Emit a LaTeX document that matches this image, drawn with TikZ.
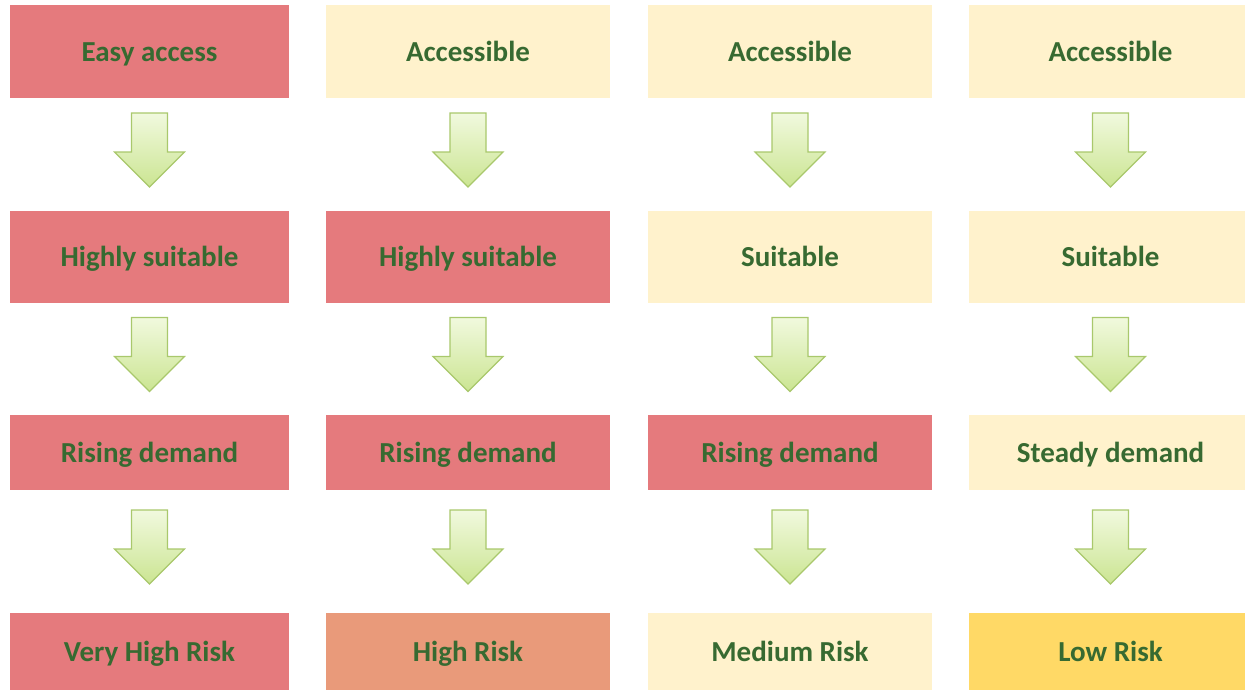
\documentclass[tikz,border=0pt]{standalone}
\usepackage{fontspec}
\setmainfont{Carlito}
\usetikzlibrary{calc}
\definecolor{boxred}{HTML}{E57A7D}
\definecolor{boxcream}{HTML}{FFF2CC}
\definecolor{boxsalmon}{HTML}{E99A7A}
\definecolor{boxyellow}{HTML}{FFD966}
\definecolor{txtgreen}{HTML}{376A31}
\definecolor{arrowlight}{HTML}{F1F9DE}
\definecolor{arrowdark}{HTML}{CBE592}
\definecolor{arrowedge}{HTML}{A9C86C}
\tikzset{
  box/.style={rectangle, inner sep=0pt, text=txtgreen, text height=19pt, text depth=0pt,
    font=\fontsize{29}{33}\selectfont\bfseries},
  redbox/.style={box, fill=boxred},
  creambox/.style={box, fill=boxcream},
  salmonbox/.style={box, fill=boxsalmon},
  yellowbox/.style={box, fill=boxyellow},
  arrowfill/.style={draw=arrowedge, line width=1.2pt, line join=miter,
    top color=arrowlight, bottom color=arrowdark},
  blockarrow/.pic={
    \path[arrowfill] (-18,-37) -- (18,-37) -- (18,2) -- (35,2) -- (0,37)
      -- (-35,2) -- (-18,2) -- cycle;
  }
}
\begin{document}
\begin{tikzpicture}[x=1pt,y=-1pt]
\useasboundingbox (0,0) rectangle (1245,689);
\clip (0,0) rectangle (1245,689);
% row 1
\node[redbox, minimum width=279pt, minimum height=93pt] (r1c1) at (149.5,51.5) {Easy access};
\node[creambox, minimum width=284pt, minimum height=93pt] (r1c2) at (468,51.5) {Accessible};
\node[creambox, minimum width=284pt, minimum height=93pt] (r1c3) at (790,51.5) {Accessible};
\node[creambox, minimum width=283pt, minimum height=93pt] (r1c4) at (1110.5,51.5) {Accessible};
% row 2
\node[redbox, minimum width=279pt, minimum height=92pt] (r2c1) at (149.5,257) {Highly suitable};
\node[redbox, minimum width=284pt, minimum height=92pt] (r2c2) at (468,257) {Highly suitable};
\node[creambox, minimum width=284pt, minimum height=92pt] (r2c3) at (790,257) {Suitable};
\node[creambox, minimum width=283pt, minimum height=92pt] (r2c4) at (1110.5,257) {Suitable};
% row 3
\node[redbox, minimum width=279pt, minimum height=75pt] (r3c1) at (149.5,452.5) {Rising demand};
\node[redbox, minimum width=284pt, minimum height=75pt] (r3c2) at (468,452.5) {Rising demand};
\node[redbox, minimum width=284pt, minimum height=75pt] (r3c3) at (790,452.5) {Rising demand};
\node[creambox, minimum width=283pt, minimum height=75pt] (r3c4) at (1110.5,452.5) {Steady demand};
% row 4
\node[redbox, minimum width=279pt, minimum height=78pt] (r4c1) at (149.5,652) {Very High Risk};
\node[salmonbox, minimum width=284pt, minimum height=78pt] (r4c2) at (468,652) {High Risk};
\node[creambox, minimum width=284pt, minimum height=78pt] (r4c3) at (790,652) {Medium Risk};
\node[yellowbox, minimum width=283pt, minimum height=78pt] (r4c4) at (1110.5,652) {Low Risk};
% arrows
\foreach \c in {1,2,3,4}{
  \foreach \a/\b in {1/2,2/3,3/4}{
    \path ($(r\a c\c.south)!0.5!(r\b c\c.north)+(0,-4.5)$) pic {blockarrow};
  }
}
\end{tikzpicture}
\end{document}
